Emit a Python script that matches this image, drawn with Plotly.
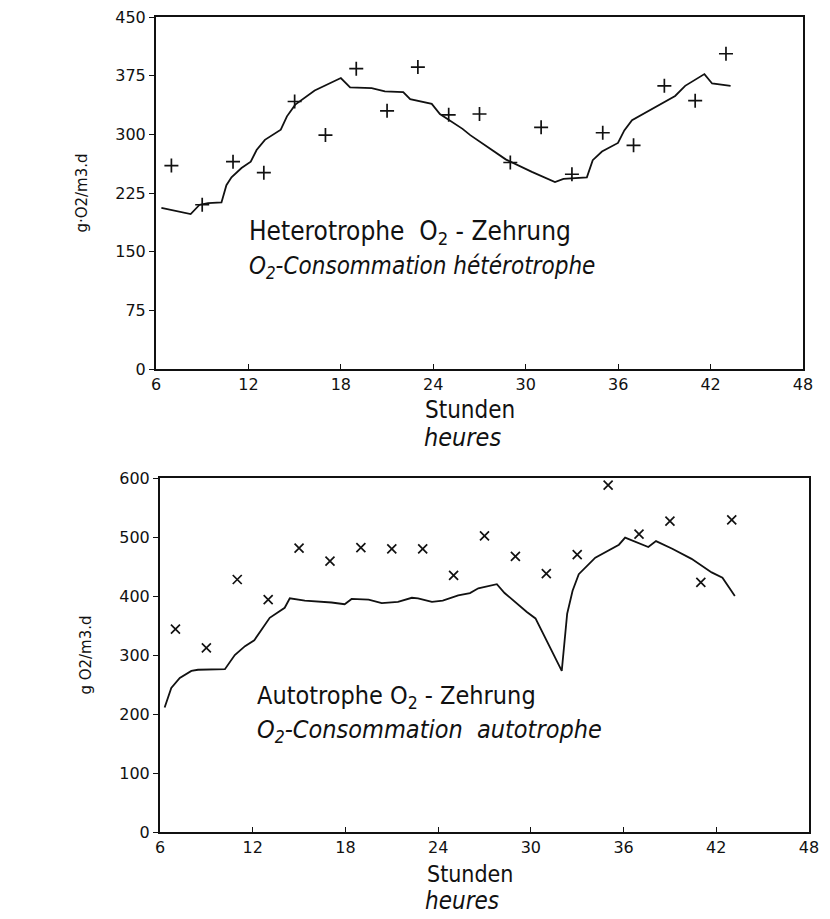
import plotly.graph_objects as go

# ---- data ----
hours_obs = [7, 9, 11, 13, 15, 17, 19, 21, 23, 25, 27, 29, 31, 33, 35, 37, 39, 41, 43]
hetero_obs = [260, 210, 265, 251, 342, 299, 384, 330, 386, 325, 326, 264, 309, 249, 302, 286, 362, 343, 403]
auto_obs = [344, 312, 428, 394, 481, 459, 482, 480, 480, 435, 502, 467, 438, 470, 588, 505, 527, 423, 529]

hetero_line_h = [6.35, 8.25, 8.83, 9.38, 10.25, 10.57, 10.9, 11.55, 12.15, 12.53, 13.07, 14.1, 14.5, 15.04,
                 16.3, 17.4, 18.0, 18.6, 20.0, 20.86, 22.05, 22.5, 23.9, 24.43, 25.9, 26.4, 27.6, 28.7,
                 30.4, 31.9, 32.45, 33.97, 34.35, 34.95, 35.99, 36.4, 36.9, 38.4, 39.7, 40.35, 41.6, 42.1, 43.3]
hetero_line_v = [206, 198, 210, 212, 213, 235, 245, 257, 265, 280, 293, 306, 323, 338,
                 356, 367, 372, 360, 359, 355, 354, 345, 339, 326, 307, 299, 283, 268,
                 252, 239, 243, 245, 267, 278, 289, 305, 318, 335, 349, 362, 377, 365, 362]

auto_line_h = [6.3, 6.73, 7.28, 8.03, 8.46, 10.2, 10.84, 11.5, 12.1, 12.67, 13.1, 14.07, 14.4, 15.37,
               17.1, 17.95, 18.4, 19.5, 20.35, 21.4, 22.3, 22.7, 23.6, 24.3, 25.3, 26.06, 26.6, 27.8,
               28.3, 29.74, 30.3, 32.0, 32.35, 32.7, 33.1, 34.17, 35.7, 36.1, 36.77, 37.6, 38.1, 39.15,
               40.4, 41.7, 42.4, 43.2]
auto_line_v = [211, 244, 261, 273, 275, 276, 300, 315, 325, 346, 363, 380, 396, 392,
               389, 386, 395, 394, 388, 390, 397, 396, 390, 392, 401, 405, 413, 420,
               405, 373, 362, 273, 370, 409, 437, 465, 487, 499, 492, 483, 493, 480,
               463, 440, 431, 400]

x_ticks = [6, 12, 18, 24, 30, 36, 42, 48]
top_y_ticks = [0, 75, 150, 225, 300, 375, 450]
bot_y_ticks = [0, 100, 200, 300, 400, 500, 600]

# page is 830x919, the browser body adds an 8px margin
OFF = 8
W, H = 830 - OFF, 919 - OFF
BLACK = "#111111"
TICKFONT = dict(family="DejaVu Sans, sans-serif", size=16, color=BLACK)
NARROW = "Liberation Sans Narrow, DejaVu Sans Condensed, Arial Narrow, sans-serif"

fig = go.Figure()

fig.add_trace(go.Scatter(x=hetero_line_h, y=hetero_line_v, mode="lines",
                         line=dict(color=BLACK, width=1.8), xaxis="x", yaxis="y", showlegend=False))
fig.add_trace(go.Scatter(x=hours_obs, y=hetero_obs, mode="markers",
                         marker=dict(symbol="cross-thin", size=10, line=dict(color=BLACK, width=1.7)),
                         xaxis="x", yaxis="y", showlegend=False))
fig.add_trace(go.Scatter(x=auto_line_h, y=auto_line_v, mode="lines",
                         line=dict(color=BLACK, width=1.8), xaxis="x2", yaxis="y2", showlegend=False))
fig.add_trace(go.Scatter(x=hours_obs, y=auto_obs, mode="markers",
                         marker=dict(symbol="x-thin", size=9, line=dict(color=BLACK, width=1.7)),
                         xaxis="x2", yaxis="y2", showlegend=False))

def px_x(p):
    return (p - OFF) / W

def px_y(p):
    return 1 - (p - OFF) / H

axis_common = dict(showline=True, linecolor=BLACK, linewidth=2, mirror=True, showgrid=False,
                   zeroline=False, tickfont=TICKFONT, tickcolor=BLACK, automargin=False,
                   ticklabeloverflow="allow")
ytitle_font = dict(family="DejaVu Sans, sans-serif", size=15, color=BLACK)

fig.update_layout(
    width=W, height=H,
    margin=dict(l=0, r=0, t=0, b=0),
    font=dict(family=NARROW, size=24, color=BLACK),
    paper_bgcolor="white", plot_bgcolor="white",
    xaxis=dict(domain=[px_x(156), px_x(803)], range=[6, 48], tickvals=x_ticks, ticks="inside",
               ticklen=5, anchor="y", **axis_common),
    yaxis=dict(domain=[px_y(369), px_y(17)], range=[0, 450], tickvals=top_y_ticks, ticks="outside",
               ticklen=5, anchor="x",
               title=dict(text="g·O2/m3.d", font=ytitle_font, standoff=24),
               **axis_common),
    xaxis2=dict(domain=[px_x(160), px_x(809)], range=[6, 48], tickvals=x_ticks, ticks="inside",
                ticklen=5, anchor="y2", **axis_common),
    yaxis2=dict(domain=[px_y(832), px_y(478)], range=[0, 600], tickvals=bot_y_ticks, ticks="outside",
                ticklen=5, anchor="x2",
                title=dict(text="g O2/m3.d", font=ytitle_font, standoff=24),
                **axis_common),
)

f26 = dict(family=NARROW, size=26, color=BLACK)
f25 = dict(family=NARROW, size=25, color=BLACK)
f24 = dict(family=NARROW, size=24, color=BLACK)
f23 = dict(family=NARROW, size=23, color=BLACK)
annotations = [
    dict(text="Heterotrophe  O<sub>2</sub> - Zehrung", x=px_x(247), y=px_y(232), xanchor="left", yanchor="middle", font=f26),
    dict(text="<i>O<sub>2</sub>-Consommation hétérotrophe</i>", x=px_x(247), y=px_y(268), xanchor="left", yanchor="middle", font=f24),
    dict(text="Autotrophe O<sub>2</sub> - Zehrung", x=px_x(255), y=px_y(697), xanchor="left", yanchor="middle", font=f25),
    dict(text="<i>O<sub>2</sub>-Consommation  autotrophe</i>", x=px_x(255), y=px_y(731), xanchor="left", yanchor="middle", font=f25),
    dict(text="Stunden", x=px_x(470), y=px_y(410), xanchor="center", yanchor="middle", font=f24),
    dict(text="<i>heures</i>", x=px_x(462), y=px_y(438), xanchor="center", yanchor="middle", font=f25),
    dict(text="Stunden", x=px_x(470), y=px_y(874), xanchor="center", yanchor="middle", font=f23),
    dict(text="<i>heures</i>", x=px_x(462), y=px_y(901), xanchor="center", yanchor="middle", font=f24),
]
for a in annotations:
    fig.add_annotation(xref="paper", yref="paper", showarrow=False, **a)

fig.write_html("out.html")
